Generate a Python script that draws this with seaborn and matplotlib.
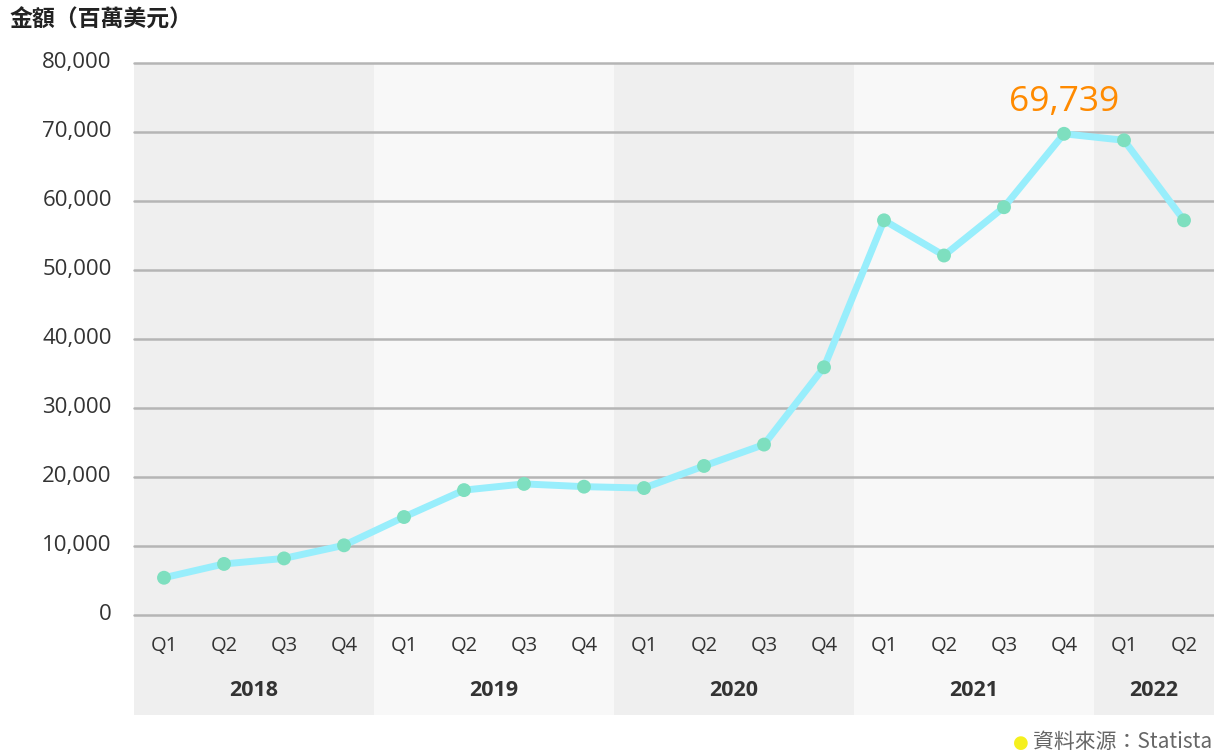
import matplotlib
matplotlib.use("Agg")
import matplotlib.pyplot as plt
import matplotlib.transforms as mtransforms
import seaborn as sns
import pandas as pd

years = ["2018", "2019", "2020", "2021", "2022"]
quarters_per_year = [4, 4, 4, 4, 2]
quarter_labels = ["Q1", "Q2", "Q3", "Q4", "Q1", "Q2", "Q3", "Q4", "Q1", "Q2", "Q3", "Q4",
                  "Q1", "Q2", "Q3", "Q4", "Q1", "Q2"]
values = [5400, 7400, 8200, 10100, 14200, 18100, 19000, 18600, 18400, 21600, 24700, 35900,
          57200, 52100, 59100, 69739, 68800, 57200]
y_ticks = [0, 10000, 20000, 30000, 40000, 50000, 60000, 70000, 80000]
title_text = "金額（百萬美元）"
source_text = "資料來源：Statista"
highlight_index = 15

sns.set_theme(style="white")
FAM = ["Open Sans", "Noto Sans CJK TC", "DejaVu Sans"]
plt.rcParams["font.family"] = FAM

W, H = 1214, 755
fig = plt.figure(figsize=(W / 100, H / 100), dpi=100)
fig.patch.set_facecolor("white")

x0, x1 = 134, 1214
ytop, ybot, ylab = 63, 615, 715
axb = fig.add_axes([x0 / W, (H - ylab) / H, (x1 - x0) / W, (ylab - ybot) / H])
ax = fig.add_axes([x0 / W, (H - ybot) / H, (x1 - x0) / W, (ybot - ytop) / H])
axb.set_zorder(1)
ax.set_zorder(2)
ax.patch.set_alpha(0)

df = pd.DataFrame({"idx": list(range(len(values))), "value": values})
n = len(values)

band_colors = ["#efefef", "#f8f8f8"]
start = 0
year_centers = []
for i, (yr, nq) in enumerate(zip(years, quarters_per_year)):
    c = band_colors[i % 2]
    for a in (ax, axb):
        a.axvspan(start - 0.5, start + nq - 0.5, color=c, lw=0, zorder=0)
    year_centers.append(start + (nq - 1) / 2)
    start += nq

for t in y_ticks:
    ax.axhline(t, color="#b5b5b5", lw=1.8, zorder=1, clip_on=False)

sns.lineplot(data=df, x="idx", y="value", ax=ax, color="#98eefc", lw=5.0, zorder=3)
sns.scatterplot(data=df, x="idx", y="value", ax=ax, color="#7edfbf", s=100,
                edgecolor="none", zorder=4)

ax.set_xlim(-0.5, n - 0.5)
ax.set_ylim(0, 80000)
ax.set_yticks(y_ticks)
ax.set_yticklabels([f"{t:,}" for t in y_ticks], fontsize=16, color="#333333")
ax.tick_params(axis="y", length=0, pad=16)
shift = mtransforms.ScaledTranslation(0, 3 / 100, fig.dpi_scale_trans)
for lab in ax.get_yticklabels():
    lab.set_transform(lab.get_transform() + shift)
ax.set_xticks([])
ax.set_xlabel("")
ax.set_ylabel("")
for s in ax.spines.values():
    s.set_visible(False)

ax.annotate(f"{values[highlight_index]:,}", (highlight_index, values[highlight_index]),
            xytext=(0, 23), textcoords="offset points", ha="center", va="center",
            fontsize=25.5, color="#ff8a00")

axb.set_xlim(-0.5, n - 0.5)
axb.set_ylim(0, 1)
axb.axis("off")
for i, q in enumerate(quarter_labels):
    axb.text(i, 0.69, q, ha="center", va="center", fontsize=14.5, color="#333333")
for yc, yr in zip(year_centers, years):
    axb.text(yc, 0.24, yr, ha="center", va="center", fontsize=15.5, color="#333333",
             fontweight="bold")

fig.text(10 / W, 1 - 20 / H, title_text, ha="left", va="center", fontsize=16.5,
         fontweight="bold", color="#222222", family=["Noto Sans CJK TC", "DejaVu Sans"])

fig.text(1021 / W, 1 - 743 / H, "●", ha="center", va="center", fontsize=13,
         color="#f5f01e", family=["DejaVu Sans"])
fig.text(1033 / W, 1 - 742 / H, source_text, ha="left", va="center", fontsize=15,
         color="#666666", family=["Noto Sans CJK TC", "DejaVu Sans"])

fig.savefig("out.png", dpi=100, facecolor="white")
